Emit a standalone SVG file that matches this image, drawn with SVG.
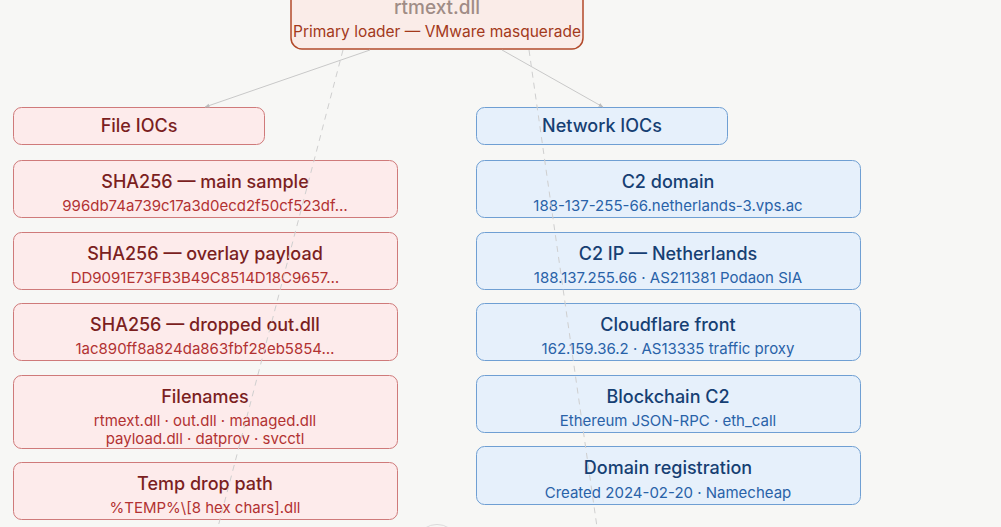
<svg xmlns="http://www.w3.org/2000/svg" width="1001" height="527" viewBox="0 0 1001 527">
<defs>
<marker id="arr" viewBox="0 0 10 10" refX="9" refY="5" markerWidth="5" markerHeight="5" orient="auto"><path d="M0,1 L10,5 L0,9 Z" fill="#bdbdbd"/></marker>
<style>
text{font-family:Inter,"Noto Sans","Liberation Sans",sans-serif;text-anchor:middle}
.f rect{fill:#fdebeb;stroke:#cf7a7a;stroke-width:1}
.n rect{fill:#e6f0fb;stroke:#6f9fd3;stroke-width:1}
.f .t{fill:#7b1f1f;font-size:18px;font-weight:500}
.f .s{fill:#b23232;font-size:15px}
.n .t{fill:#163f73;font-size:18px;font-weight:500}
.n .s{fill:#2962a8;font-size:15px}
.ln{stroke:#c8c8c8;stroke-width:1;fill:none}
.ds{stroke:#cfcfcf;stroke-width:1;fill:none;stroke-dasharray:6 5}
</style>
</defs>
<rect x="0" y="0" width="1001" height="527" fill="#f7f7f5"/>
<g id="rtmext">
<rect x="291" y="-40" width="292" height="89" rx="11" fill="#faece8" stroke="#b24a2a" stroke-width="1.5"/>
<text x="437" y="14" fill="#a08c86" font-size="19" font-weight="500">rtmext.dll</text>
<text x="437" y="37" fill="#a3391b" font-size="15.5">Primary loader — VMware masquerade</text>
</g>
<g id="file-iocs" class="f">
<rect x="13.5" y="107.5" width="251" height="37" rx="8"/>
<text class="t" x="139" y="132">File IOCs</text>
</g>
<g id="sha-main" class="f">
<rect x="13.5" y="160.5" width="384" height="57" rx="8"/>
<text class="t" x="205" y="188">SHA256 — main sample</text>
<text class="s" x="205" y="211">996db74a739c17a3d0ecd2f50cf523df…</text>
</g>
<g id="sha-overlay" class="f">
<rect x="13.5" y="232.5" width="384" height="57" rx="8"/>
<text class="t" x="205" y="260">SHA256 — overlay payload</text>
<text class="s" x="205" y="283">DD9091E73FB3B49C8514D18C9657…</text>
</g>
<g id="sha-dropped" class="f">
<rect x="13.5" y="303.5" width="384" height="57" rx="8"/>
<text class="t" x="205" y="331">SHA256 — dropped out.dll</text>
<text class="s" x="205" y="354">1ac890ff8a824da863fbf28eb5854…</text>
</g>
<g id="filenames" class="f">
<rect x="13.5" y="375.5" width="384" height="73" rx="8"/>
<text class="t" x="205" y="403">Filenames</text>
<text class="s" x="205" y="426">rtmext.dll · out.dll · managed.dll</text>
<text class="s" x="205" y="444">payload.dll · datprov · svcctl</text>
</g>
<g id="temp-path" class="f">
<rect x="13.5" y="462.5" width="384" height="57" rx="8"/>
<text class="t" x="205" y="490">Temp drop path</text>
<text class="s" x="205" y="513">%TEMP%\[8 hex chars].dll</text>
</g>
<g id="network-iocs" class="n">
<rect x="476.5" y="107.5" width="251" height="37" rx="8"/>
<text class="t" x="602" y="132">Network IOCs</text>
</g>
<g id="c2-domain" class="n">
<rect x="476.5" y="160.5" width="384" height="57" rx="8"/>
<text class="t" x="668" y="188">C2 domain</text>
<text class="s" x="668" y="211">188-137-255-66.netherlands-3.vps.ac</text>
</g>
<g id="c2-ip" class="n">
<rect x="476.5" y="232.5" width="384" height="57" rx="8"/>
<text class="t" x="668" y="260">C2 IP — Netherlands</text>
<text class="s" x="668" y="283">188.137.255.66 · AS211381 Podaon SIA</text>
</g>
<g id="cloudflare" class="n">
<rect x="476.5" y="303.5" width="384" height="57" rx="8"/>
<text class="t" x="668" y="331">Cloudflare front</text>
<text class="s" x="668" y="354">162.159.36.2 · AS13335 traffic proxy</text>
</g>
<g id="blockchain" class="n">
<rect x="476.5" y="375.5" width="384" height="57" rx="8"/>
<text class="t" x="668" y="403">Blockchain C2</text>
<text class="s" x="668" y="426">Ethereum JSON-RPC · eth_call</text>
</g>
<g id="domain-reg" class="n">
<rect x="476.5" y="446.5" width="384" height="58" rx="8"/>
<text class="t" x="668" y="474">Domain registration</text>
<text class="s" x="668" y="498">Created 2024-02-20 · Namecheap</text>
</g>
<g id="connectors">
<line class="ln" x1="370" y1="50" x2="205" y2="107" marker-end="url(#arr)"/>
<line class="ln" x1="502" y1="50" x2="603" y2="107" marker-end="url(#arr)"/>
<line class="ds" x1="343" y1="50" x2="218" y2="527"/>
<line class="ds" x1="529" y1="50" x2="597" y2="527"/>
<path d="M425,528 A22,22 0 0 1 449,528" fill="none" stroke="#dcdcdc" stroke-width="1"/>
</g>
</svg>
